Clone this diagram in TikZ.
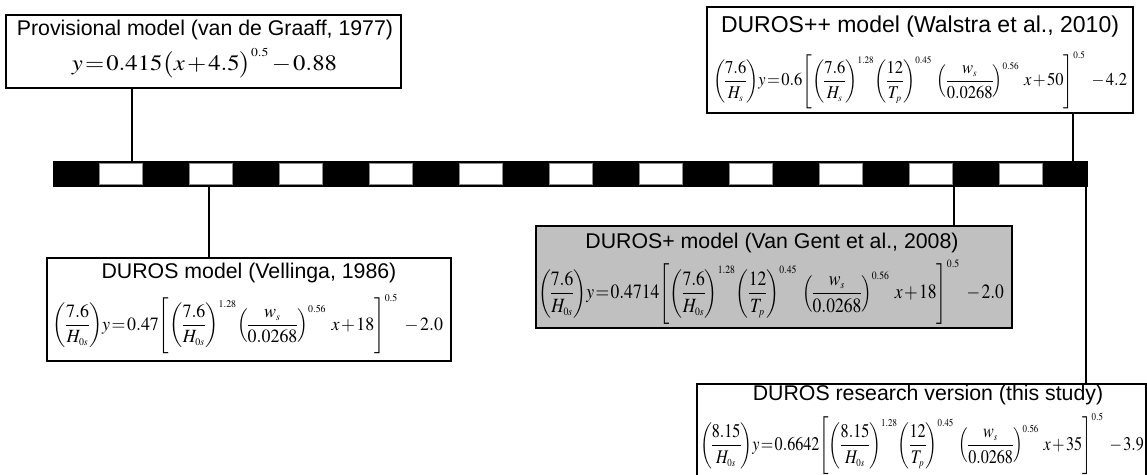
\documentclass[tikz,border=0pt]{standalone}
\usepackage{mathptmx}
\usepackage[no-math]{fontspec}
\newfontfamily\labelfont{Liberation Sans}
\usepackage{graphicx}
\usetikzlibrary{positioning}
\definecolor{boxgray}{HTML}{C0C0C0}
\definecolor{slotgray}{HTML}{8C8C8C}
% small exponents and indices, as in the printed formulas
\DeclareMathSizes{10}{10}{5.5}{4.5}

\tikzset{
  modelbox/.style={draw, line width=1.6pt, inner sep=0pt},
  modeltitle/.style={font=\labelfont\fontsize{21.3}{24}\selectfont, inner sep=0pt, anchor=base},
  modeleq/.style={inner sep=0pt},
  link/.style={line width=1.6pt}
}

% formula squeezed to a given width and total height, tight spacing
\newcommand{\eqfit}[3]{\resizebox*{#1}{#2}{$\thinmuskip=0mu\thickmuskip=1.5mu\medmuskip=1.5mu\nulldelimiterspace=0pt\displaystyle #3$}}
\newcommand{\gap}{\mkern5mu}

\begin{document}
\begin{tikzpicture}[x=1pt, y=-1pt]
\useasboundingbox (0,0) rectangle (1147,474);

% time bar, black with white slots
\fill (53,161) rectangle (1088,187);
\foreach \i in {1,3,...,21} { \draw[fill=white, draw=slotgray, line width=0.8pt] (53+45*\i+1,163.5) rectangle ++(43,21); }
\coordinate (c-prov) at (132,161);
\coordinate (c-pp) at (1073,161);
\coordinate (c-duros) at (209,187);
\coordinate (c-plus) at (954,187);
\coordinate (c-res) at (1086,187);

% provisional model
\node[modelbox, minimum width=395pt, minimum height=73pt] (prov) at (203.5,51.5) {};
\node[modeltitle] (prov-t) at (205,35) {Provisional model (van de Graaff, 1977)};
\node[modeleq] (prov-e) at (204.5,63.5) {\eqfit{265pt}{30pt}{y=0.415\bigl(x+4.5\bigr)^{0.5}-0.88}};

% DUROS++
\node[modelbox, minimum width=426pt, minimum height=106pt] (pp) at (920,60) {};
\node[modeltitle, font=\labelfont\fontsize{23}{26}\selectfont] (pp-t) at (920,32) {DUROS++ model (Walstra et al., 2010)};
\node[modeleq] (pp-e) at (920,80) {\eqfit{414pt}{57pt}{\left(\frac{7.6}{H_s}\right)y=0.6\left[\left(\frac{7.6}{H_s}\right)^{1.28}\left(\frac{12}{T_p}\right)^{0.45}\gap\left(\frac{w_s}{0.0268}\right)^{0.56}\gap x+50\right]^{0.5}\gap-4.2}};

% DUROS
\node[modelbox, minimum width=404pt, minimum height=103pt] (duros) at (249,309.5) {};
\node[modeleq] (duros-e) at (248,324) {\eqfit{390pt}{59pt}{\left(\frac{7.6}{H_{0s}}\right)y=0.47\left[\left(\frac{7.6}{H_{0s}}\right)^{1.28}\left(\frac{w_s}{0.0268}\right)^{0.56}\gap x+18\right]^{0.5}\gap-2.0}};
\node[modeltitle] (duros-t) at (249,278) {DUROS model (Vellinga, 1986)};

% DUROS+
\node[modelbox, fill=boxgray, minimum width=476pt, minimum height=102pt] (plus) at (774,277) {};
\node[modeltitle] (plus-t) at (772,248) {DUROS+ model (Van Gent et al., 2008)};
\node[modeleq] (plus-e) at (771,292) {\eqfit{466pt}{64pt}{\left(\frac{7.6}{H_{0s}}\right)y=0.4714\left[\left(\frac{7.6}{H_{0s}}\right)^{1.28}\left(\frac{12}{T_p}\right)^{0.45}\gap\left(\frac{w_s}{0.0268}\right)^{0.56}\gap x+18\right]^{0.5}\gap-2.0}};

% research version, runs off the bottom edge
\node[modelbox, minimum width=449pt, minimum height=106pt] (res) at (921.5,437) {};
\node[modeltitle] (res-t) at (928,400) {DUROS research version (this study)};
\node[modeleq] (res-e) at (922,444) {\eqfit{444pt}{61pt}{\left(\frac{8.15}{H_{0s}}\right)y=0.6642\left[\left(\frac{8.15}{H_{0s}}\right)^{1.28}\left(\frac{12}{T_p}\right)^{0.45}\gap\left(\frac{w_s}{0.0268}\right)^{0.56}\gap x+35\right]^{0.5}\gap-3.9}};

% links to the bar
\draw[link] (c-prov |- prov.south) -- (c-prov);
\draw[link] (c-pp |- pp.south) -- (c-pp);
\draw[link] (c-duros) -- (c-duros |- duros.north);
\draw[link] (c-plus) -- (c-plus |- plus.north);
\draw[link] (c-res) -- (c-res |- res.north);
\end{tikzpicture}
\end{document}
